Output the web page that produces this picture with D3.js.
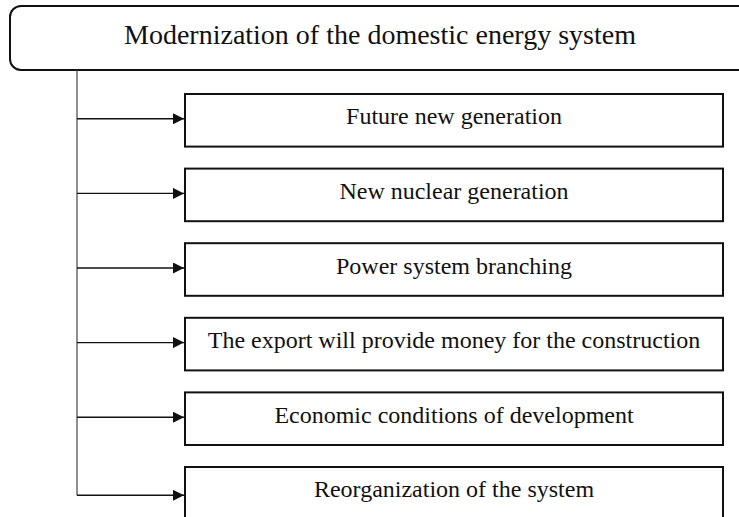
<!DOCTYPE html>
<html><head><meta charset="utf-8">
<script src="https://cdn.jsdelivr.net/npm/d3@7"></script>
<style>body{margin:0;background:#fff;} svg{display:block;}</style>
</head><body>
<svg id="c" width="739" height="517"></svg>
<script>
const title = "Modernization of the domestic energy system";
const items = [
  "Future new generation",
  "New nuclear generation",
  "Power system branching",
  "The export will provide money for the construction",
  "Economic conditions of development",
  "Reorganization of the system"
];

const svg = d3.select("#c");
const font = "'Liberation Serif','Times New Roman',serif";

// top box
svg.append("rect").attr("x", 10).attr("y", 6).attr("width", 760).attr("height", 64)
  .attr("rx", 11).attr("fill", "#fff").attr("stroke", "#111").attr("stroke-width", 2);
svg.append("text").attr("x", 380).attr("y", 44).attr("text-anchor", "middle")
  .attr("font-family", font).attr("font-size", 28).attr("fill", "#111").text(title);

const step = 74.6, boxH = 52.6;
const y = d3.scaleBand().domain(items)
  .range([94, 94 + step * (items.length - 1) + boxH])
  .paddingInner(1 - boxH / step).paddingOuter(0);
const boxL = 185, boxR = 723, lineX = 77;
const last = items[items.length - 1];
const arrowY = d => y(d) + y.bandwidth() / 2 + (d === last ? 2 : -1.5);

svg.append("defs").append("marker").attr("id", "ah").attr("viewBox", "0 0 10 10")
  .attr("refX", 10).attr("refY", 5).attr("markerWidth", 11).attr("markerHeight", 11)
  .attr("markerUnits", "userSpaceOnUse").attr("orient", "auto")
  .append("path").attr("d", "M0,0L10,5L0,10Z").attr("fill", "#111");

// vertical trunk
svg.append("line").attr("x1", lineX).attr("x2", lineX).attr("y1", 70)
  .attr("y2", arrowY(last))
  .attr("stroke", "#444").attr("stroke-width", 1.2);

const g = svg.selectAll("g.item").data(items).join("g").attr("class", "item");
g.append("line").attr("x1", lineX).attr("x2", boxL - 1)
  .attr("y1", arrowY).attr("y2", arrowY)
  .attr("stroke", "#111").attr("stroke-width", 1.4).attr("marker-end", "url(#ah)");
g.append("rect").attr("x", boxL).attr("y", d => y(d)).attr("width", boxR - boxL)
  .attr("height", y.bandwidth()).attr("fill", "#fff").attr("stroke", "#111").attr("stroke-width", 2);
g.append("text").attr("x", (boxL + boxR) / 2).attr("y", d => y(d) + y.bandwidth() / 2 + 4)
  .attr("text-anchor", "middle").attr("font-family", font).attr("font-size", 24)
  .attr("fill", "#111").text(d => d);
</script>
</body></html>
